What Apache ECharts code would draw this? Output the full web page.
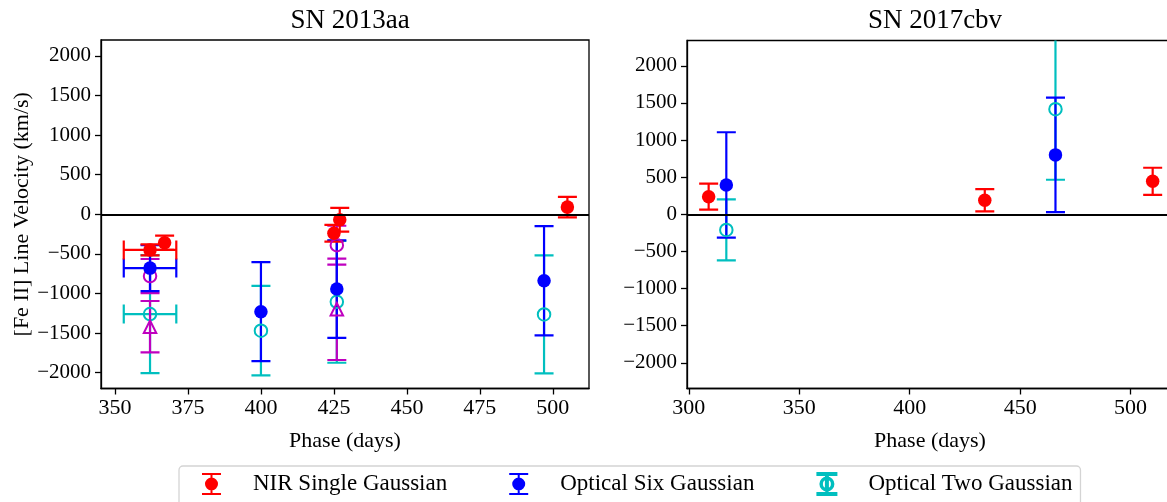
<!DOCTYPE html>
<html>
<head>
<meta charset="utf-8">
<script src="https://cdn.jsdelivr.net/npm/echarts@6/dist/echarts.min.js"></script>
<style>
body { margin: 0; background: #fff; }
#chart { width: 1167px; height: 502px; }
</style>
</head>
<body>
<div id="chart"></div>
<script>
// SN 2013aa
const nirPhaseA = [362, 367, 425, 427, 505];
const nirVelA = [-450, -360, -240, -70, 90];
const nirErrA = [70, 90, 105, 150, 130];
const nirPhaseErrA = [9, 0, 0, 0, 0];

const sixPhaseA = [362, 400, 426, 497];
const sixVelA = [-680, -1230, -945, -840];
const sixErrA = [290, 625, 615, 690];
const sixPhaseErrA = [9, 0, 0, 0];

const twoPhaseA = [362, 400, 426, 497];
const twoVelA = [-1260, -1470, -1105, -1265];
const twoErrA = [745, 565, 770, 745];
const twoPhaseErrA = [9, 0, 0, 0];

// magenta points (no legend entry)
const magCircPhaseA = [362, 426];
const magCircVelA = [-780, -390];
const magCircErrA = [215, 245];
const magTriPhaseA = [362, 426];
const magTriVelA = [-1420, -1200];
const magTriErrA = [325, 640];

// SN 2017cbv
const nirPhaseB = [309, 434, 510];
const nirVelB = [237, 190, 445];
const nirErrB = [175, 150, 182];

const sixPhaseB = [317, 466];
const sixVelB = [395, 800];
const sixErrB = [710, 770];

const twoPhaseB = [317, 466];
const twoVelB = [-210, 1415];
const twoErrB = [410, 950];

const velTicks = [-2000, -1500, -1000, -500, 0, 500, 1000, 1500, 2000];
const phaseTicksA = [350, 375, 400, 425, 450, 475, 500];
const phaseTicksB = [300, 350, 400, 450, 500];

const RED = '#ff0000', BLUE = '#0000ff', CYAN = '#00bfbf', MAG = '#bf00bf';
const FONT = 'Liberation Serif';

const zipErr = (xs, ys, es, xe) => xs.map((x, i) => [x, ys[i], es[i], xe ? xe[i] : 0]);
const zipPts = (xs, ys) => xs.map((x, i) => [x, ys[i]]);

function errorBars(color) {
    return function (params, api) {
        const x = api.value(0), y = api.value(1), ey = api.value(2), ex = api.value(3);
        const s = { stroke: color, lineWidth: 2.2 };
        const cap = 9.5;
        const hi = api.coord([x, y + ey]);
        const lo = api.coord([x, y - ey]);
        const kids = [
            { type: 'line', shape: { x1: hi[0], y1: hi[1], x2: lo[0], y2: lo[1] }, style: s },
            { type: 'line', shape: { x1: hi[0] - cap, y1: hi[1], x2: hi[0] + cap, y2: hi[1] }, style: s },
            { type: 'line', shape: { x1: lo[0] - cap, y1: lo[1], x2: lo[0] + cap, y2: lo[1] }, style: s },
        ];
        if (ex > 0) {
            const l = api.coord([x - ex, y]);
            const r = api.coord([x + ex, y]);
            kids.push(
                { type: 'line', shape: { x1: l[0], y1: l[1], x2: r[0], y2: r[1] }, style: s },
                { type: 'line', shape: { x1: l[0], y1: l[1] - cap, x2: l[0], y2: l[1] + cap }, style: s },
                { type: 'line', shape: { x1: r[0], y1: r[1] - cap, x2: r[0], y2: r[1] + cap }, style: s }
            );
        }
        return { type: 'group', children: kids };
    };
}

function errSeries(idx, color, data, extra) {
    return Object.assign({
        type: 'custom',
        xAxisIndex: idx,
        yAxisIndex: idx,
        renderItem: errorBars(color),
        encode: { x: 0, y: 1 },
        clip: true,
        silent: true,
        data: data,
    }, extra || {});
}

function markSeries(idx, name, color, data, open, symbol) {
    return {
        type: 'scatter',
        name: name,
        xAxisIndex: idx,
        yAxisIndex: idx,
        symbol: symbol || 'circle',
        symbolSize: open ? 12.5 : 13.5,
        itemStyle: open
            ? { color: 'rgba(0,0,0,0)', borderColor: color, borderWidth: 2, opacity: 1 }
            : { color: color, opacity: 1 },
        data: data,
    };
}

const zeroLine = {
    silent: true,
    symbol: ['none', 'none'],
    label: { show: false },
    lineStyle: { color: '#000', width: 2, type: 'solid' },
    data: [{ yAxis: 0 }],
};

const minusFmt = (v) => (v < 0 ? '\u2212' + Math.abs(v) : String(v));

function xAxisFor(idx, min, max, ticks) {
    return {
        type: 'value',
        gridIndex: idx,
        min: min,
        max: max,
        name: 'Phase (days)',
        nameLocation: 'middle',
        nameGap: 42,
        nameTextStyle: { fontFamily: FONT, fontSize: 22, color: '#000' },
        axisLine: { show: true, onZero: false, lineStyle: { color: '#000', width: 1.3 } },
        axisTick: { show: true, length: 6, customValues: ticks, lineStyle: { color: '#000', width: 1.3 } },
        axisLabel: { customValues: ticks, margin: 9, fontFamily: FONT, fontSize: 22, color: '#000' },
        splitLine: { show: false },
    };
}

function yAxisFor(idx, min, max, withName) {
    return {
        type: 'value',
        gridIndex: idx,
        min: min,
        max: max,
        name: withName ? '[Fe II] Line Velocity (km/s)' : '',
        nameLocation: 'middle',
        nameGap: 68,
        nameTextStyle: { fontFamily: FONT, fontSize: 22, color: '#000' },
        axisLine: { show: true, onZero: false, lineStyle: { color: '#000', width: 1.3 } },
        axisTick: { show: true, length: 6, customValues: velTicks, lineStyle: { color: '#000', width: 1.3 } },
        axisLabel: { customValues: velTicks, margin: 10, fontFamily: FONT, fontSize: 21, color: '#000', formatter: minusFmt },
        splitLine: { show: false },
    };
}

const barIcon = 'path://M0,0H19V2H0Z M8.5,2H10.5V20H8.5Z M0,20H19V22H0Z M16,11A6.5,6.5,0,1,1,3,11A6.5,6.5,0,1,1,16,11Z';
const barIconOpen = 'path://M0,0H19V2H0Z M8.5,2H10.5V20H8.5Z M0,20H19V22H0Z M16,11A6.5,6.5,0,1,1,3,11A6.5,6.5,0,1,1,16,11Z M14.5,11A5,5,0,1,0,4.5,11A5,5,0,1,0,14.5,11Z';

const chart = echarts.init(document.getElementById('chart'), null, { renderer: 'canvas' });

const option = {
    animation: false,
    backgroundColor: '#fff',
    title: [
        { text: 'SN 2013aa', left: 345, top: 2, textAlign: 'center', textStyle: { fontFamily: FONT, fontSize: 27, fontWeight: 'normal', color: '#000' } },
        { text: 'SN 2017cbv', left: 930, top: 2, textAlign: 'center', textStyle: { fontFamily: FONT, fontSize: 27, fontWeight: 'normal', color: '#000' } },
    ],
    grid: [
        { left: 101, top: 40, width: 488, height: 348.5, show: true, borderColor: '#000', borderWidth: 1.3, backgroundColor: 'rgba(0,0,0,0)', outerBoundsMode: 'none' },
        { left: 687, top: 40.5, width: 486, height: 348, show: true, borderColor: '#000', borderWidth: 1.3, backgroundColor: 'rgba(0,0,0,0)', outerBoundsMode: 'none' },
    ],
    xAxis: [
        xAxisFor(0, 345.2, 512.4, phaseTicksA),
        xAxisFor(1, 299.2, 519.2, phaseTicksB),
    ],
    yAxis: [
        yAxisFor(0, -2200, 2200, true),
        yAxisFor(1, -2345, 2340, false),
    ],
    legend: {
        left: 179,
        top: 466,
        orient: 'horizontal',
        padding: [6, 8, 10, 23],
        itemWidth: 19,
        itemHeight: 22,
        itemGap: 62,
        backgroundColor: '#fff',
        borderColor: '#d4d4d4',
        borderWidth: 1.3,
        borderRadius: 4,
        textStyle: { fontFamily: FONT, fontSize: 23, color: '#000', padding: [0, 0, 0, 27] },
        data: [
            { name: 'NIR Single Gaussian', icon: barIcon, itemStyle: { color: RED } },
            { name: 'Optical Six Gaussian', icon: barIcon, itemStyle: { color: BLUE } },
            { name: 'Optical Two Gaussian', icon: barIconOpen, itemStyle: { color: CYAN } },
        ],
    },
    series: [
        // SN 2013aa
        errSeries(0, CYAN, zipErr(twoPhaseA, twoVelA, twoErrA, twoPhaseErrA), { markLine: zeroLine }),
        markSeries(0, 'Optical Two Gaussian', CYAN, zipPts(twoPhaseA, twoVelA), true),
        errSeries(0, MAG, zipErr(magCircPhaseA, magCircVelA, magCircErrA)),
        markSeries(0, 'magenta circle', MAG, zipPts(magCircPhaseA, magCircVelA), true),
        errSeries(0, MAG, zipErr(magTriPhaseA, magTriVelA, magTriErrA)),
        markSeries(0, 'magenta triangle', MAG, zipPts(magTriPhaseA, magTriVelA), true, 'triangle'),
        errSeries(0, BLUE, zipErr(sixPhaseA, sixVelA, sixErrA, sixPhaseErrA)),
        markSeries(0, 'Optical Six Gaussian', BLUE, zipPts(sixPhaseA, sixVelA), false),
        errSeries(0, RED, zipErr(nirPhaseA, nirVelA, nirErrA, nirPhaseErrA)),
        markSeries(0, 'NIR Single Gaussian', RED, zipPts(nirPhaseA, nirVelA), false),
        // SN 2017cbv
        errSeries(1, CYAN, zipErr(twoPhaseB, twoVelB, twoErrB), { markLine: zeroLine }),
        markSeries(1, 'Optical Two Gaussian', CYAN, zipPts(twoPhaseB, twoVelB), true),
        errSeries(1, BLUE, zipErr(sixPhaseB, sixVelB, sixErrB)),
        markSeries(1, 'Optical Six Gaussian', BLUE, zipPts(sixPhaseB, sixVelB), false),
        errSeries(1, RED, zipErr(nirPhaseB, nirVelB, nirErrB)),
        markSeries(1, 'NIR Single Gaussian', RED, zipPts(nirPhaseB, nirVelB), false),
    ],
};

chart.setOption(option);
</script>
</body>
</html>
